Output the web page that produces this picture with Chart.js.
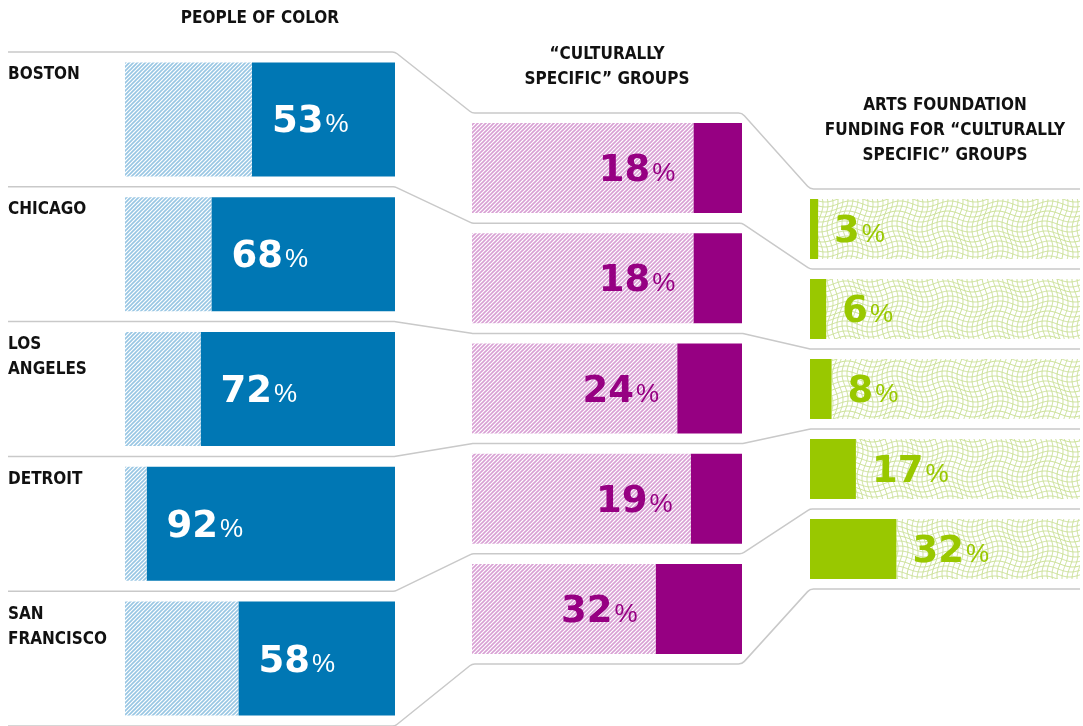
<!DOCTYPE html>
<html lang="en">
<head>
<meta charset="UTF-8">
<title>People of color and culturally specific groups</title>
<script src="https://cdn.jsdelivr.net/npm/chart.js"></script>
<style>
  html, body { margin: 0; padding: 0; background: #fff; }
  #wrap { position: relative; width: 1083px; height: 726px; overflow: hidden; }
  #wrap canvas { position: absolute; }
</style>
</head>
<body>
<div id="wrap">
  <canvas id="bg" width="1083" height="726" style="left:0;top:0"></canvas>
  <canvas id="c1" width="395" height="674" style="left:0;top:52px"></canvas>
  <canvas id="c2" width="270" height="551" style="left:472px;top:113px"></canvas>
  <canvas id="c3" width="270" height="400" style="left:810px;top:189px"></canvas>
</div>

<script>
const cities = [['BOSTON'], ['CHICAGO'], ['LOS', 'ANGELES'], ['DETROIT'], ['SAN', 'FRANCISCO']];
const peopleOfColor = [53, 68, 72, 92, 58];
const culturallySpecific = [18, 18, 24, 19, 32];
const foundationFunding = [3, 6, 8, 17, 32];

const title1 = ['PEOPLE OF COLOR'];
const title2 = ['\u201CCULTURALLY', 'SPECIFIC\u201D GROUPS'];
const title3 = ['ARTS FOUNDATION', 'FUNDING FOR \u201CCULTURALLY', 'SPECIFIC\u201D GROUPS'];

const LABEL_FONT = 'bold 17px "Liberation Sans Narrow", "DejaVu Sans Condensed", "Liberation Sans", sans-serif';
const NUM_FONT = 'bold 37px "DejaVu Sans", sans-serif';
const PCT_FONT = '26px "Liberation Sans", sans-serif';
const PCT_GAP = 2;

const BLUE = '#0077b4', PURPLE = '#960082', GREEN = '#99c800';

function hatch(color) {
  const t = document.createElement('canvas');
  t.width = t.height = 4;
  const g = t.getContext('2d');
  g.fillStyle = '#fff';
  g.fillRect(0, 0, 4, 4);
  g.strokeStyle = color;
  g.lineWidth = 1.6;
  g.beginPath();
  g.moveTo(-1, 5); g.lineTo(5, -1);
  g.moveTo(-1, 1); g.lineTo(1, -1);
  g.moveTo(3, 5); g.lineTo(5, 3);
  g.stroke();
  return g.createPattern(t, 'repeat');
}

// warped grid for the funding column
function waveGrid(color) {
  const T = 50, s = 5, A = 3;
  const t = document.createElement('canvas');
  t.width = t.height = T;
  const g = t.getContext('2d');
  g.fillStyle = '#fff';
  g.fillRect(0, 0, T, T);
  g.strokeStyle = color;
  g.lineWidth = 1;
  const w = v => A * Math.sin(2 * Math.PI * v / T);
  for (let c = 0; c <= T; c += s) {
    g.beginPath();
    for (let u = -5; u <= T + 5; u++) {
      const x = u + w(c), y = c + w(u);
      u === -5 ? g.moveTo(x, y) : g.lineTo(x, y);
    }
    g.stroke();
    g.beginPath();
    for (let v = -5; v <= T + 5; v++) {
      const x = c + w(v), y = v + w(c);
      v === -5 ? g.moveTo(x, y) : g.lineTo(x, y);
    }
    g.stroke();
  }
  return g.createPattern(t, 'repeat');
}

function valueLabels(solidIndex, mode, color) {
  return {
    id: 'valueLabels',
    afterDatasetsDraw(chart) {
      const ctx = chart.ctx;
      const vals = chart.data.datasets[solidIndex].data;
      chart.getDatasetMeta(solidIndex).data.forEach((bar, i) => {
        const p = bar.getProps(['x', 'y', 'base'], true);
        const left = Math.min(p.x, p.base), right = Math.max(p.x, p.base);
        const num = String(vals[i]);
        ctx.save();
        ctx.font = NUM_FONT;
        const wn = ctx.measureText(num).width;
        ctx.font = PCT_FONT;
        const wp = ctx.measureText('%').width;
        let sx;
        if (mode === 'inside') sx = left + 20;
        else if (mode === 'before') sx = left - 18 - wp - PCT_GAP - wn;
        else sx = right + 16;
        const by = p.y + 13;
        ctx.fillStyle = color;
        ctx.textAlign = 'left';
        ctx.textBaseline = 'alphabetic';
        ctx.font = NUM_FONT;
        ctx.fillText(num, sx, by);
        ctx.font = PCT_FONT;
        ctx.fillText('%', sx + wn + PCT_GAP, by);
        ctx.restore();
      });
    }
  };
}

const cityLabels = {
  id: 'cityLabels',
  afterDraw(chart) {
    const ctx = chart.ctx;
    ctx.save();
    ctx.font = LABEL_FONT;
    ctx.fillStyle = '#111';
    ctx.textBaseline = 'alphabetic';
    chart.getDatasetMeta(1).data.forEach((bar, i) => {
      const p = bar.getProps(['y', 'height'], true);
      const top = p.y - p.height / 2;
      cities[i].forEach((line, j) => ctx.fillText(line, 8, top + 17 + j * 25));
    });
    ctx.restore();
  }
};

function makeChart(id, datasets, catPct, padLeft, plugins) {
  return new Chart(document.getElementById(id), {
    type: 'bar',
    data: { labels: cities.map(c => c.join(' ')), datasets },
    options: {
      indexAxis: 'y',
      responsive: false,
      animation: false,
      devicePixelRatio: 1,
      layout: { padding: { left: padLeft, right: 0, top: 0, bottom: 0 } },
      datasets: { bar: { barPercentage: 1, categoryPercentage: catPct, borderWidth: 0 } },
      plugins: { legend: { display: false }, tooltip: { enabled: false } },
      scales: {
        x: { type: 'linear', min: 0, max: 100, stacked: true, display: false },
        y: { stacked: true, display: false }
      }
    },
    plugins
  });
}

const rest = arr => arr.map(v => 100 - v);

const chart1 = makeChart('c1', [
  { data: rest(peopleOfColor), backgroundColor: hatch('#98c6e3') },
  { data: peopleOfColor, backgroundColor: BLUE }
], 114 / 134.75, 125, [valueLabels(1, 'inside', '#fff'), cityLabels]);

const chart2 = makeChart('c2', [
  { data: rest(culturallySpecific), backgroundColor: hatch('#d8a0d4') },
  { data: culturallySpecific, backgroundColor: PURPLE }
], 90 / 110.25, 0, [valueLabels(1, 'before', PURPLE)]);

const chart3 = makeChart('c3', [
  { data: foundationFunding, backgroundColor: GREEN },
  { data: rest(foundationFunding), backgroundColor: waveGrid('#cde29a') }
], 60 / 80, 0, [valueLabels(0, 'after', GREEN)]);

// connectors and titles, positioned from each chart's own scales
function geometry(chart) {
  const el = chart.canvas;
  const ys = chart.scales.y, xs = chart.scales.x;
  const n = chart.data.labels.length;
  const seps = [];
  for (let k = 0; k <= n; k++) {
    let y;
    if (k === 0) y = chart.chartArea.top;
    else if (k === n) y = chart.chartArea.bottom;
    else y = (ys.getPixelForValue(k - 1) + ys.getPixelForValue(k)) / 2;
    seps.push(y + el.offsetTop);
  }
  return {
    seps,
    left: xs.getPixelForValue(0) + el.offsetLeft,
    right: xs.getPixelForValue(100) + el.offsetLeft
  };
}

const g1 = geometry(chart1), g2 = geometry(chart2), g3 = geometry(chart3);
const bg = document.getElementById('bg').getContext('2d');

bg.strokeStyle = '#c9c9c9';
bg.lineWidth = 1.5;
const R = 8;
g1.seps.forEach((y1, k) => {
  const y2 = g2.seps[k], y3 = g3.seps[k];
  bg.beginPath();
  bg.moveTo(8, y1);
  bg.arcTo(g1.right, y1, g2.left, y2, R);
  bg.arcTo(g2.left, y2, g2.right, y2, R);
  bg.arcTo(g2.right, y2, g3.left, y3, R);
  bg.arcTo(g3.left, y3, g3.right, y3, R);
  bg.lineTo(g3.right, y3);
  bg.stroke();
});

bg.font = LABEL_FONT;
bg.fillStyle = '#111';
bg.textAlign = 'center';
bg.textBaseline = 'alphabetic';
[[title1, g1], [title2, g2], [title3, g3]].forEach(([lines, g]) => {
  const cx = (g.left + g.right) / 2;
  const last = g.seps[0] - 29;
  lines.forEach((line, j) => bg.fillText(line, cx, last - (lines.length - 1 - j) * 25));
});
</script>
</body>
</html>
